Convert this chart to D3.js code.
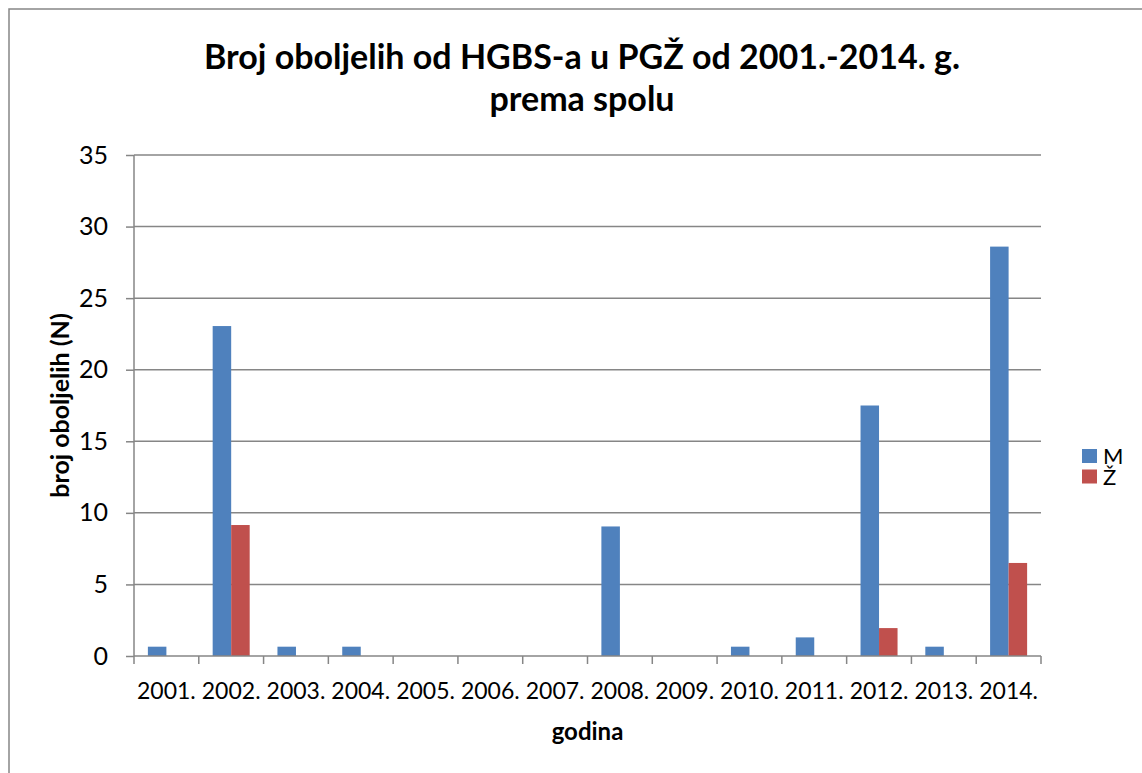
<!DOCTYPE html>
<html>
<head>
<meta charset="utf-8">
<script src="https://cdn.jsdelivr.net/npm/d3@7"></script>
<style>
  body { margin: 0; background: #fff; }
  svg { display: block; font-family: Lato, "Open Sans", sans-serif; }
</style>
</head>
<body>
<div id="chart"></div>
<script>
// data
const years = ["2001.", "2002.", "2003.", "2004.", "2005.", "2006.", "2007.",
               "2008.", "2009.", "2010.", "2011.", "2012.", "2013.", "2014."];
const seriesNames = ["M", "Ž"];
const valuesM = [0.65, 23.05, 0.65, 0.65, 0, 0, 0, 9.05, 0, 0.65, 1.3, 17.5, 0.65, 28.6];
const valuesZ = [0, 9.15, 0, 0, 0, 0, 0, 0, 0, 0, 0, 1.95, 0, 6.5];
const yTicks = [0, 5, 10, 15, 20, 25, 30, 35];
const colors = ["#4F81BD", "#C0504D"];

const width = 1142, height = 773;
const margin = { top: 155, right: 101, bottom: 117, left: 134 };

const svg = d3.select("#chart").append("svg")
    .attr("width", width)
    .attr("height", height);

// outer chart frame
svg.append("rect")
    .attr("x", 9).attr("y", 9)
    .attr("width", 1140).attr("height", 770)
    .attr("fill", "#fff")
    .attr("stroke", "#868686")
    .attr("stroke-width", 1.5);

let x = d3.scaleBand()
    .domain(years)
    .range([margin.left, width - margin.right])
    .paddingInner(0.75 / 1.75)
    .paddingOuter(0.75 / 3.5);
let xOuter = d3.scaleBand()
    .domain(years)
    .range([margin.left, width - margin.right]);
let xSub = d3.scaleBand()
    .domain(seriesNames)
    .range([0, x.bandwidth()]);
let y = d3.scaleLinear()
    .domain([0, 35])
    .range([height - margin.bottom, margin.top]);

// gridlines
svg.append("g")
    .selectAll("line")
    .data(yTicks.slice(1))
    .join("line")
    .attr("x1", margin.left).attr("x2", width - margin.right)
    .attr("y1", d => y(d)).attr("y2", d => y(d))
    .attr("stroke", "#868686")
    .attr("stroke-width", 1.5);

// bars
let rows = years.map((yr, i) => ({ year: yr, vals: [valuesM[i], valuesZ[i]] }));
svg.append("g")
    .selectAll("g")
    .data(rows)
    .join("g")
    .attr("transform", d => `translate(${x(d.year)},0)`)
    .selectAll("rect")
    .data(d => d.vals.map((v, k) => ({ key: seriesNames[k], value: v, k: k })))
    .join("rect")
    .attr("x", d => xSub(d.key))
    .attr("width", xSub.bandwidth())
    .attr("y", d => y(d.value))
    .attr("height", d => y(0) - y(d.value))
    .attr("fill", d => colors[d.k]);

// y axis
let yAxis = svg.append("g")
    .attr("transform", `translate(${margin.left},0)`)
    .call(d3.axisLeft(y).tickValues(yTicks).tickSize(8).tickPadding(18));
yAxis.selectAll("line, path").attr("stroke", "#868686").attr("stroke-width", 1.5);
yAxis.select(".domain").attr("d", `M0,${y(35)}V${y(0)}`);
yAxis.selectAll("text")
    .attr("fill", "#000")
    .style("font-size", "25px")
    .style("font-family", "Lato, sans-serif");

// x axis, ticks on category boundaries
let xAxis = svg.append("g")
    .attr("transform", `translate(0,${y(0)})`);
xAxis.append("line")
    .attr("x1", margin.left).attr("x2", width - margin.right)
    .attr("stroke", "#868686").attr("stroke-width", 1.5);
xAxis.selectAll(".tk")
    .data(years.concat(["end"]))
    .join("line")
    .attr("class", "tk")
    .attr("x1", d => d === "end" ? width - margin.right : xOuter(d))
    .attr("x2", d => d === "end" ? width - margin.right : xOuter(d))
    .attr("y1", 0).attr("y2", 8)
    .attr("stroke", "#868686").attr("stroke-width", 1.5);
xAxis.selectAll(".lbl")
    .data(years)
    .join("text")
    .attr("class", "lbl")
    .attr("x", d => xOuter(d) + xOuter.bandwidth() / 2)
    .attr("y", 43)
    .attr("text-anchor", "middle")
    .style("font-size", "23px")
    .text(d => d);

// axis titles
svg.append("text")
    .attr("x", (margin.left + width - margin.right) / 2)
    .attr("y", 740)
    .attr("text-anchor", "middle")
    .style("font-size", "24px")
    .style("font-weight", "bold")
    .text("godina");
svg.append("text")
    .attr("transform", `translate(69,${(y(0) + y(35)) / 2}) rotate(-90)`)
    .attr("text-anchor", "middle")
    .style("font-size", "25px")
    .style("font-weight", "bold")
    .text("broj oboljelih (N)");

// title
let title = svg.append("text")
    .attr("text-anchor", "middle")
    .style("font-size", "34px")
    .style("font-weight", "bold");
title.append("tspan").attr("x", 582).attr("y", 69)
    .text("Broj oboljelih od HGBS-a u PGŽ od 2001.-2014. g.");
title.append("tspan").attr("x", 582).attr("y", 111)
    .text("prema spolu");

// legend
let legend = svg.append("g")
    .attr("transform", "translate(1082,449)")
    .selectAll("g")
    .data(seriesNames)
    .join("g")
    .attr("transform", (d, i) => `translate(0,${i * 20.5})`);
legend.append("rect")
    .attr("width", 15).attr("height", 14)
    .attr("fill", (d, i) => colors[i]);
legend.append("text")
    .attr("x", 21).attr("y", 15)
    .style("font-size", "22px")
    .text(d => d);
</script>
</body>
</html>
